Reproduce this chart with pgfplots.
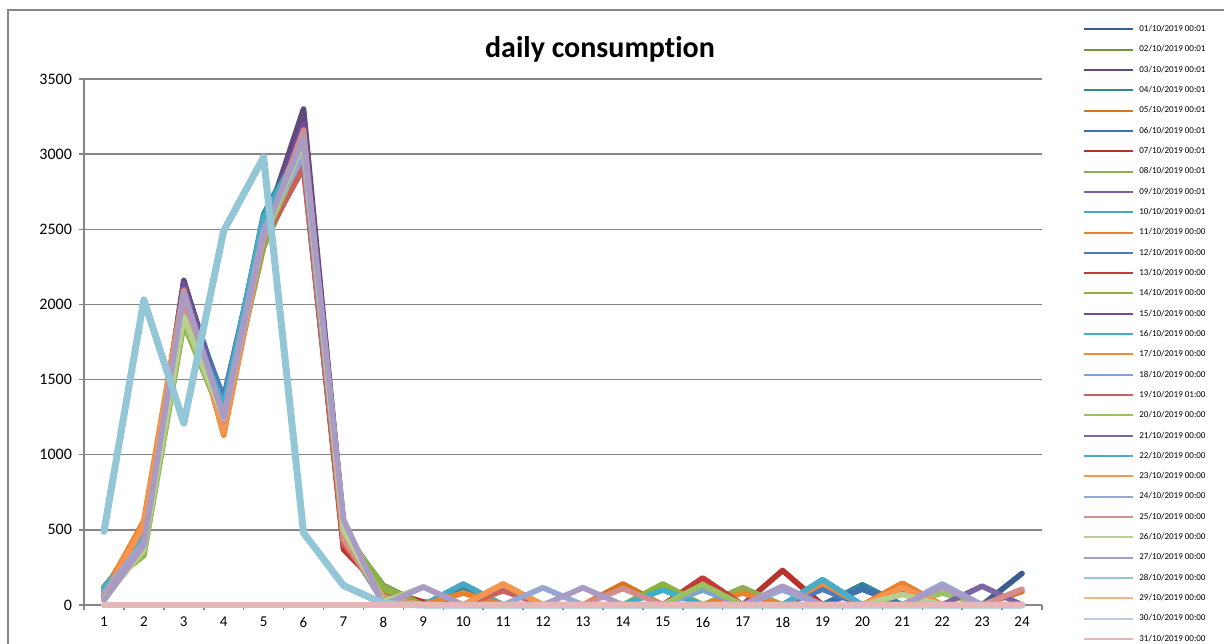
\documentclass[border=0pt]{standalone}
\usepackage{pgfplots}
\pgfplotsset{compat=1.18}
\usepackage{pgfplotstable}
\usepackage{fontspec}
\setmainfont{Carlito}[Ligatures=NoCommon]

\definecolor{axisgray}{HTML}{868686}
\definecolor{c1}{HTML}{3B5E91}
\definecolor{c2}{HTML}{76923C}
\definecolor{c3}{HTML}{5F4A7B}
\definecolor{c4}{HTML}{31849B}
\definecolor{c5}{HTML}{D9731E}
\definecolor{c6}{HTML}{3E6FAE}
\definecolor{c7}{HTML}{B8322E}
\definecolor{c8}{HTML}{8CB050}
\definecolor{c9}{HTML}{7A60A0}
\definecolor{c10}{HTML}{46A8C2}
\definecolor{c11}{HTML}{E8822E}
\definecolor{c12}{HTML}{4A7CC0}
\definecolor{c13}{HTML}{C43A36}
\definecolor{c14}{HTML}{8DB33E}
\definecolor{c15}{HTML}{6F4C9B}
\definecolor{c16}{HTML}{3FAFC8}
\definecolor{c17}{HTML}{F08A34}
\definecolor{c18}{HTML}{7FA1D6}
\definecolor{c19}{HTML}{C9625F}
\definecolor{c20}{HTML}{9BC262}
\definecolor{c21}{HTML}{7A65A5}
\definecolor{c22}{HTML}{4AACC6}
\definecolor{c23}{HTML}{F7944E}
\definecolor{c24}{HTML}{95A8D4}
\definecolor{c25}{HTML}{D38E8C}
\definecolor{c26}{HTML}{B7CF8F}
\definecolor{c27}{HTML}{A99BC4}
\definecolor{c28}{HTML}{93C6D6}
\definecolor{c29}{HTML}{F9B384}
\definecolor{c30}{HTML}{BDCBE2}
\definecolor{c31}{HTML}{E5B7B6}

% hourly consumption, one column per day (s1 = 01/10 ... s31 = 31/10)
\pgfplotstableread{
h s1 s2 s3 s4 s5 s6 s7 s8 s9 s10 s11 s12 s13 s14 s15 s16 s17 s18 s19 s20 s21 s22 s23 s24 s25 s26 s27 s28 s29 s30 s31
1  90 110 70 120 100  80 60 100 90 110  80 100 50 120 60  110 70 90 40 100  70 100 60 80 50  40 30 490 0 0  0
2  420 360 400 430 520  450 380 340 400 440  560 420 400 330 390  450 550 430 380 350  410 440 530 420 390  370 400 2030 0 0  0
3  2150 1950 2160 2050 2080  2100 2000 1880 2120 2000  2110 2060 1980 1870 2140  2020 2100 2040 1960 1900  2100 2030 2090 2020 1990  1920 2080 1210 0 0  0
4  1330 1250 1280 1300 1180  1370 1250 1220 1260 1340  1200 1380 1240 1230 1290  1320 1130 1300 1210 1230  1280 1310 1150 1260 1220  1240 1250 2490 0 0  0
5  2480 2450 2500 2600 2420  2550 2400 2380 2480 2560  2450 2520 2420 2400 2500  2580 2460 2500 2430 2440  2480 2550 2450 2500 2440  2460 2470 2980 0 0  0
6  3050 3000 3300 3100 3050  3000 2950 2980 3150 3050  3000 2960 2920 3000 3200  3080 3050 2980 2910 3020  3120 3060 3100 3000 3160  3080 3110 480 0 0  0
7  450 480 520 470 430  460 370 500 540 480  420 440 400 510 550  460 430 470 410 500  540 470 440 480 450  500 570 130 0 0  0
8  30 130 20 30 40  30 100 120 10 30  50 20 80 90 10  20 40 20 60 50  10 20 40 10 30  20 0 10 0 0  0
9  0 0 0 0 0  0 20 0 0 0  0 0 0 0 0  0 0 0 0 0  0 0 0 0 0  120 120 0 0 0  0
10 0 0 0 120 0  0 0 0 0 140  80 0 0 0 0  0 0 0 0 0  0 0 0 0 0  0 0 0 0 0  0
11 0 0 0 0 0  0 0 0 0 0  0 0 0 0 0  0 0 0 95 140  0 0 140 0 0  0 0 0 0 0  0
12 0 0 0 0 0  0 0 0 0 0  0 0 0 0 0  0 0 0 0 0  0 0 0 115 0  0 0 0 0 0  0
13 0 0 0 0 0  0 0 0 0 0  0 0 0 0 0  0 0 0 0 0  0 0 0 0 0  0 115 0 0 0  0
14 0 0 0 0 140  0 0 0 0 0  0 0 0 0 0  0 0 0 0 0  0 0 0 0 110  0 0 0 0 0  0
15 0 0 0 0 0  0 0 0 0 0  0 0 0 140 0  100 0 0 0 0  0 0 0 0 0  0 0 0 0 0  0
16 0 0 0 0 0  0 0 0 0 0  0 0 180 0 0  0 0 100 0 135  0 0 0 0 0  0 0 0 0 0  0
17 0 0 0 0 0  0 0 115 0 0  80 0 0 0 0  0 0 0 0 0  0 0 0 0 0  0 0 0 0 0  0
18 0 0 0 0 0  0 230 0 0 0  0 0 0 0 0  0 0 0 0 0  0 0 0 100 0  0 125 0 0 0  0
19 0 0 0 0 0  0 0 0 0 0  0 105 0 0 0  0 145 0 0 0  0 170 0 0 0  0 0 0 0 0  0
20 0 0 0 135 0  105 0 0 0 0  0 0 0 0 0  0 0 0 0 0  0 0 0 0 0  0 0 0 0 0  0
21 0 0 0 0 0  0 0 0 0 0  145 0 0 0 0  0 0 0 90 0  0 0 115 0 0  70 0 0 0 0  0
22 0 0 0 0 0  0 0 0 0 0  0 0 0 0 0  0 0 0 0 80  0 0 0 140 0  0 120 0 0 0  0
23 0 0 0 0 0  0 0 0 0 0  0 0 0 0 0  0 0 0 0 0  125 0 0 0 0  0 0 0 0 0  0
24 210 0 0 0 90  0 0 0 0 0  0 0 0 0 0  0 0 0 0 0  0 0 0 0 105  0 0 0 0 0  0
}\daily

\begin{document}
\begin{tikzpicture}
\draw[axisgray, line width=1pt] (4pt,-10pt) -- (4pt,316.5pt) -- (640pt,316.5pt);
\begin{axis}[
  scale only axis, width=479pt, height=263pt,
  at={(42pt,19pt)}, anchor=south west,
  xmin=0.5, xmax=24.5, ymin=0, ymax=3500,
  xtick={1,...,24}, minor xtick={0.5,1.5,...,24.5},
  ytick={0,500,...,3500},
  axis lines*=left,
  axis line style={axisgray, line width=0.75pt, -},
  tick align=outside, major tick length=2.5pt, minor tick length=2.5pt,
  tick style={axisgray, line width=0.75pt},
  major x tick style={draw=none},
  ymajorgrids, major grid style={axisgray, line width=0.75pt},
  /pgf/number format/assume math mode=true,
  /pgf/number format/set thousands separator={},
  scaled y ticks=false,
  yticklabel style={font=\fontsize{8}{9.6}\selectfont},
  xticklabel style={font=\fontsize{7.5}{9}\selectfont},
  title={daily consumption},
  title style={at={(axis description cs:0.5386,1.0342)}, anchor=center,
    font=\bfseries\fontsize{15}{18}\selectfont},
  clip=false,
  every axis plot/.append style={line width=2.8pt, line join=round, line cap=round, no markers},
  legend cell align=left,
  legend image code/.code={\draw[line width=1pt, line cap=butt] (0pt,0pt) -- (24.5pt,0pt);},
  legend style={at={(axis description cs:1.0428,1.1038)}, anchor=north west,
    draw=none, fill=none, inner sep=0pt, row sep=5.66pt, column sep=2.5pt,
    font=\fontsize{4.5}{5.4}\selectfont,
    nodes={inner sep=0pt, text height=3.4pt, text depth=1.1pt}},
  legend entries={01/10/2019 00:01, 02/10/2019 00:01, 03/10/2019 00:01, 04/10/2019 00:01,
    05/10/2019 00:01, 06/10/2019 00:01, 07/10/2019 00:01, 08/10/2019 00:01,
    09/10/2019 00:01, 10/10/2019 00:01, 11/10/2019 00:00, 12/10/2019 00:00,
    13/10/2019 00:00, 14/10/2019 00:00, 15/10/2019 00:00, 16/10/2019 00:00,
    17/10/2019 00:00, 18/10/2019 00:00, 19/10/2019 01:00, 20/10/2019 00:00,
    21/10/2019 00:00, 22/10/2019 00:00, 23/10/2019 00:00, 24/10/2019 00:00,
    25/10/2019 00:00, 26/10/2019 00:00, 27/10/2019 00:00, 28/10/2019 00:00,
    29/10/2019 00:00, 30/10/2019 00:00, 31/10/2019 00:00},
]
\addplot[c1] table[x=h, y=s1] {\daily};
\addplot[c2] table[x=h, y=s2] {\daily};
\addplot[c3] table[x=h, y=s3] {\daily};
\addplot[c4] table[x=h, y=s4] {\daily};
\addplot[c5] table[x=h, y=s5] {\daily};
\addplot[c6] table[x=h, y=s6] {\daily};
\addplot[c7] table[x=h, y=s7] {\daily};
\addplot[c8] table[x=h, y=s8] {\daily};
\addplot[c9] table[x=h, y=s9] {\daily};
\addplot[c10] table[x=h, y=s10] {\daily};
\addplot[c11] table[x=h, y=s11] {\daily};
\addplot[c12] table[x=h, y=s12] {\daily};
\addplot[c13] table[x=h, y=s13] {\daily};
\addplot[c14] table[x=h, y=s14] {\daily};
\addplot[c15] table[x=h, y=s15] {\daily};
\addplot[c16] table[x=h, y=s16] {\daily};
\addplot[c17] table[x=h, y=s17] {\daily};
\addplot[c18] table[x=h, y=s18] {\daily};
\addplot[c19] table[x=h, y=s19] {\daily};
\addplot[c20] table[x=h, y=s20] {\daily};
\addplot[c21] table[x=h, y=s21] {\daily};
\addplot[c22] table[x=h, y=s22] {\daily};
\addplot[c23] table[x=h, y=s23] {\daily};
\addplot[c24] table[x=h, y=s24] {\daily};
\addplot[c25] table[x=h, y=s25] {\daily};
\addplot[c26] table[x=h, y=s26] {\daily};
\addplot[c27] table[x=h, y=s27] {\daily};
\addplot[c28, line width=3.5pt] table[x=h, y=s28] {\daily};
\addplot[c29] table[x=h, y=s29] {\daily};
\addplot[c30] table[x=h, y=s30] {\daily};
\addplot[c31] table[x=h, y=s31] {\daily};
\end{axis}
\pgfresetboundingbox
\useasboundingbox (0pt,0pt) rectangle (612pt,321.5pt);
\end{tikzpicture}
\end{document}
